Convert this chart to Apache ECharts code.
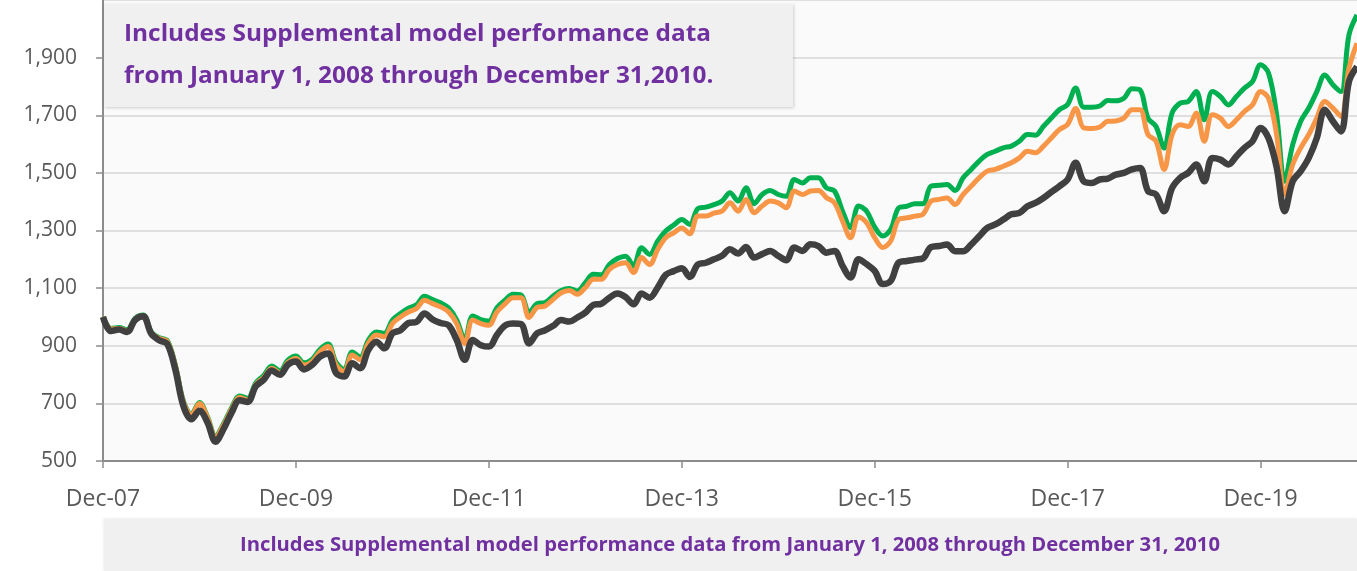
<!DOCTYPE html>
<html>
<head>
<meta charset="utf-8">
<script src="https://cdn.jsdelivr.net/npm/echarts@6/dist/echarts.min.js"></script>
<style>
html,body{margin:0;padding:0;background:#fff;}
#chart{width:1357px;height:571px;}
</style>
</head>
<body>
<div id="chart"></div>
<script>
// ---- data (monthly, Dec-07 .. Dec-20) ----
const monthNames = ['Jan','Feb','Mar','Apr','May','Jun','Jul','Aug','Sep','Oct','Nov','Dec'];
const startYear = 2007, startMonth = 11, monthCount = 157;
const categories = [];
for (let i = 0; i < monthCount; i++) {
  const m = (startMonth + i) % 12;
  const y = startYear + Math.floor((startMonth + i) / 12);
  categories.push(monthNames[m] + '-' + String(y % 100).padStart(2, '0'));
}

const greenSeries = [
  1000, 960, 963, 955, 995, 1007, 948, 928, 918, 833, 708, 663, 703, 653, 587, 629, 685, 726, 718, 771, 797, 830, 813, 850, 864,
  841, 853, 888, 906, 842, 818, 878, 861, 919, 948, 943, 989, 1012, 1030, 1042, 1072, 1060, 1049, 1031, 990, 922, 1003, 991, 986, 1032, 1058,
  1079, 1077, 1015, 1046, 1050, 1073, 1092, 1099, 1090, 1119, 1148, 1146, 1182, 1203, 1211, 1177, 1240, 1217, 1263, 1298, 1319, 1338, 1321, 1376, 1381, 1390,
  1402, 1431, 1402, 1448, 1393, 1425, 1439, 1425, 1419, 1477, 1465, 1483, 1483, 1448, 1437, 1367, 1310, 1385, 1367, 1312, 1281, 1304, 1379, 1384,
  1393, 1393, 1454, 1457, 1460, 1439, 1483, 1512, 1541, 1564, 1575, 1587, 1593, 1610, 1633, 1631, 1662, 1691, 1720, 1737, 1795, 1728, 1728, 1732, 1751, 1750,
  1759, 1792, 1788, 1690, 1661, 1586, 1708, 1742, 1748, 1782, 1684, 1782, 1765, 1736, 1765, 1794, 1817, 1875, 1846, 1702, 1471, 1598, 1679, 1725, 1782, 1840, 1806, 1782, 1979, 2048
];
const orangeSeries = [
  1000, 958, 960, 952, 992, 1004, 945, 925, 915, 830, 705, 660, 700, 650, 583, 625, 680, 720, 712, 765, 790, 822, 805, 842, 856,
  833, 845, 879, 897, 833, 810, 868, 851, 908, 937, 931, 977, 1000, 1017, 1029, 1058, 1046, 1035, 1017, 977, 908, 989, 977, 971, 1017, 1045,
  1067, 1067, 998, 1033, 1038, 1061, 1084, 1092, 1079, 1102, 1131, 1131, 1165, 1182, 1188, 1154, 1206, 1182, 1234, 1275, 1292, 1309, 1289, 1350, 1350, 1360,
  1367, 1396, 1367, 1408, 1362, 1385, 1402, 1396, 1379, 1437, 1425, 1437, 1439, 1414, 1396, 1333, 1275, 1347, 1327, 1275, 1241, 1264, 1339, 1344,
  1350, 1356, 1402, 1408, 1413, 1390, 1425, 1454, 1483, 1506, 1512, 1523, 1535, 1552, 1575, 1570, 1593, 1622, 1651, 1668, 1723, 1656, 1654, 1659, 1679, 1680,
  1690, 1719, 1719, 1633, 1610, 1512, 1633, 1667, 1661, 1708, 1610, 1702, 1690, 1661, 1684, 1713, 1736, 1782, 1759, 1633, 1425, 1529, 1587, 1633, 1690, 1748, 1725, 1696, 1863, 1950
];
const graySeries = [
  1000, 951, 956, 948, 990, 1002, 942, 919, 906, 817, 691, 645, 674, 634, 567, 611, 668, 711, 705, 759, 782, 814, 799, 834, 845,
  818, 833, 862, 873, 805, 793, 839, 822, 885, 914, 891, 943, 954, 979, 983, 1012, 991, 979, 971, 920, 851, 920, 902, 897, 937, 970,
  977, 975, 908, 943, 954, 969, 989, 984, 998, 1015, 1042, 1046, 1067, 1081, 1069, 1044, 1081, 1067, 1102, 1146, 1159, 1169, 1139, 1182, 1188, 1200,
  1212, 1235, 1220, 1243, 1206, 1218, 1229, 1212, 1197, 1241, 1229, 1252, 1246, 1223, 1229, 1177, 1137, 1200, 1183, 1160, 1114, 1125, 1189, 1194,
  1199, 1203, 1242, 1246, 1251, 1228, 1228, 1251, 1280, 1309, 1321, 1338, 1356, 1361, 1384, 1396, 1413, 1434, 1454, 1477, 1535, 1471, 1465, 1477, 1480, 1494,
  1500, 1512, 1517, 1437, 1425, 1367, 1448, 1483, 1500, 1529, 1471, 1552, 1546, 1529, 1558, 1587, 1610, 1656, 1620, 1520, 1367, 1471, 1506, 1552, 1621, 1719, 1679, 1644, 1817, 1869
];

const yTicks = { min: 500, max: 2100, interval: 200 };
const noteTopLines = ['Includes Supplemental model performance data', 'from January 1, 2008 through December 31,2010.'];
const noteBottom = 'Includes Supplemental model performance data from January 1, 2008 through December 31, 2010';

// ---- helpers ----
const FONT = '"Open Sans", "Liberation Sans", sans-serif';
const mctx = document.createElement('canvas').getContext('2d');
function fitScale(text, size, weight, target) {
  mctx.font = weight + ' ' + size + 'px ' + FONT;
  return target / mctx.measureText(text).width;
}
const topSize = 24, botSize = 19;
const topScale = fitScale(noteTopLines[0], topSize, 'bold', 587);
const botScale = fitScale(noteBottom, botSize, 'bold', 980);

const chart = echarts.init(document.getElementById('chart'), null, { renderer: 'canvas' });
chart.setOption({
  animation: false,
  backgroundColor: '#ffffff',
  grid: { left: 103, right: 0, top: 0, bottom: 110, show: true, backgroundColor: '#fafafa', borderWidth: 0 },
  xAxis: {
    type: 'category',
    data: categories,
    boundaryGap: false,
    axisLine: { show: true, lineStyle: { color: '#8c8c8c', width: 2 } },
    axisTick: { show: true, interval: 23, length: 7, lineStyle: { color: '#8c8c8c', width: 1.5 } },
    axisLabel: { interval: 23, color: '#595959', fontFamily: FONT, fontSize: 23, margin: 27 },
    splitLine: { show: false }
  },
  yAxis: {
    type: 'value',
    min: yTicks.min, max: yTicks.max, interval: yTicks.interval,
    axisLine: { show: true, lineStyle: { color: '#8c8c8c', width: 2 } },
    axisTick: { show: true, length: 7, lineStyle: { color: '#8c8c8c', width: 1.5 } },
    axisLabel: {
      color: '#595959', fontFamily: FONT, fontSize: 21, margin: 26, showMaxLabel: false,
      formatter: v => v.toLocaleString('en-US')
    },
    splitLine: { show: true, lineStyle: { color: '#d6d6d6', width: 1.5 } }
  },
  series: [
    { name: 'Green', type: 'line', data: greenSeries, smooth: 0.35, symbol: 'none',
      lineStyle: { color: '#00b050', width: 5 }, z: 2 },
    { name: 'Orange', type: 'line', data: orangeSeries, smooth: 0.35, symbol: 'none',
      lineStyle: { color: '#f79646', width: 5 }, z: 3 },
    { name: 'Gray', type: 'line', data: graySeries, smooth: 0.35, symbol: 'none',
      lineStyle: { color: '#404040', width: 6.5 }, z: 4 }
  ],
  graphic: [
    { type: 'rect', z: 100, shape: { x: 104, y: 4, width: 689, height: 103 },
      style: { fill: '#f0f0f0', shadowBlur: 3, shadowOffsetX: 1, shadowOffsetY: 1, shadowColor: 'rgba(0,0,0,0.18)' } },
    { type: 'text', z: 101, x: 124, y: 34, scaleX: topScale,
      style: { text: noteTopLines[0], fill: '#7030a0', font: 'bold ' + topSize + 'px ' + FONT, textAlign: 'left', textVerticalAlign: 'middle' } },
    { type: 'text', z: 101, x: 124, y: 76, scaleX: topScale,
      style: { text: noteTopLines[1], fill: '#7030a0', font: 'bold ' + topSize + 'px ' + FONT, textAlign: 'left', textVerticalAlign: 'middle' } },
    { type: 'rect', z: 100, shape: { x: 104, y: 519, width: 1253, height: 52 },
      style: { fill: '#f0f0f0', shadowBlur: 3, shadowOffsetX: 0, shadowOffsetY: 0, shadowColor: 'rgba(0,0,0,0.12)' } },
    { type: 'text', z: 101, x: 730, y: 546, scaleX: botScale,
      style: { text: noteBottom, fill: '#7030a0', font: 'bold ' + botSize + 'px ' + FONT, textAlign: 'center', textVerticalAlign: 'middle' } }
  ]
});
</script>
</body>
</html>
